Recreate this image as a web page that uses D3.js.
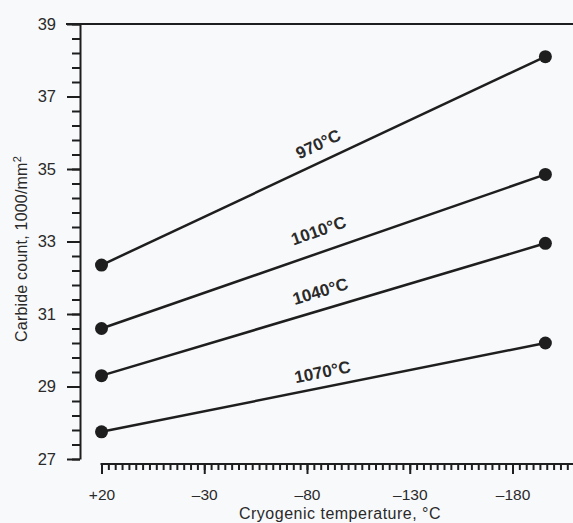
<!DOCTYPE html>
<html><head><meta charset="utf-8">
<script src="https://cdn.jsdelivr.net/npm/d3@7"></script>
<style>
body{margin:0;background:#f8f9fb;}
svg{display:block;}
text{font-family:"Liberation Sans",Arial,Helvetica,sans-serif;fill:#2a2a2a;}
</style>
</head><body>
<svg id="c" width="573" height="523"></svg>
<script>
// ---- data ----
const temps = [20, -196];
const seriesNames = ["970°C", "1010°C", "1040°C", "1070°C"];
const v970  = [32.35, 38.10];
const v1010 = [30.60, 34.85];
const v1040 = [29.30, 32.95];
const v1070 = [27.75, 30.20];
const xTicks = [20, -30, -80, -130, -180];
const xTickLabels = ["+20", "–30", "–80", "–130", "–180"];
const yTicks = [27, 29, 31, 33, 35, 37, 39];
const labelTemp = -89;

// ---- layout ----
const svg = d3.select("#c");
const ink = "#1e1e1e";
const x = d3.scaleLinear().domain([20, -180]).range([101.5, 512.5]);
const y = d3.scaleLinear().domain([27, 39]).range([459, 24]);
const labelOffsets = [17, 21, 18, 15];
const series = [v970, v1010, v1040, v1070];

// top frame line
svg.append("line").attr("x1", 66).attr("x2", 573).attr("y1", y(39)).attr("y2", y(39))
  .attr("stroke", ink).attr("stroke-width", 2);

// Y axis
const yMinor = d3.range(27, 39.001, 0.4).map(d => +d.toFixed(1));
const gyMinor = svg.append("g").attr("transform", "translate(80,0)")
  .call(d3.axisLeft(y).tickValues(yMinor).tickSize(8).tickFormat(""));
gyMinor.select(".domain").remove();
const gy = svg.append("g").attr("transform", "translate(80,0)")
  .call(d3.axisLeft(y).tickValues(yTicks).tickSize(13).tickSizeOuter(0).tickPadding(11));
svg.selectAll("g .tick line, g .domain").attr("stroke", ink).attr("stroke-width", 2);
gy.selectAll("text").attr("font-size", 16.5).attr("fill", "#333");

// X axis
const axisY = 464;
const xMinor = d3.range(0, 70).map(i => 20 - i * 10 / 3);
const gxMinor = svg.append("g").attr("transform", `translate(0,${axisY})`)
  .call(d3.axisBottom(x).tickValues(xMinor).tickSize(6).tickFormat(""));
gxMinor.select(".domain").remove();
const gx = svg.append("g").attr("transform", `translate(0,${axisY})`)
  .call(d3.axisBottom(x).tickValues(xTicks).tickSize(10).tickFormat((d, i) => xTickLabels[i]));
gx.select(".domain").remove();
gx.selectAll("text").attr("y", 36).attr("dy", 0).attr("font-size", 15.5).attr("fill", "#333");
svg.selectAll("g .tick line").attr("stroke", ink).attr("stroke-width", 2);
svg.append("line").attr("x1", x(20) - 1).attr("x2", 573).attr("y1", axisY).attr("y2", axisY)
  .attr("stroke", ink).attr("stroke-width", 2);

// axis titles
svg.append("text").attr("x", 340).attr("y", 519).attr("text-anchor", "middle")
  .attr("font-size", 16).attr("letter-spacing", 0.5).text("Cryogenic temperature, °C");
const yt = svg.append("text").attr("transform", "translate(27,249) rotate(-90)")
  .attr("text-anchor", "middle").attr("font-size", 16).attr("letter-spacing", 0.2);
yt.append("tspan").text("Carbide count, 1000/mm");
yt.append("tspan").attr("dy", -6).attr("font-size", 11).text("2");

// lines, dots, labels
const line = d3.line().x((d, i) => x(temps[i])).y(d => y(d));
series.forEach((vals, k) => {
  svg.append("path").attr("d", line(vals)).attr("fill", "none")
    .attr("stroke", ink).attr("stroke-width", 2.5);
  svg.selectAll(null).data(vals).enter().append("circle")
    .attr("cx", (d, i) => x(temps[i])).attr("cy", d => y(d)).attr("r", 6.5).attr("fill", ink);
  const x0 = x(temps[0]), y0 = y(vals[0]), x1 = x(temps[1]), y1 = y(vals[1]);
  const a = Math.atan2(y1 - y0, x1 - x0);
  const t = (labelTemp - temps[0]) / (temps[1] - temps[0]);
  const lv = vals[0] + (vals[1] - vals[0]) * t;
  const px = x(labelTemp) + Math.sin(a) * labelOffsets[k];
  const py = y(lv) - Math.cos(a) * labelOffsets[k];
  svg.append("text").attr("transform", `translate(${px},${py}) rotate(${a * 180 / Math.PI})`)
    .attr("text-anchor", "middle").attr("dominant-baseline", "central")
    .attr("font-size", 17).attr("font-weight", "bold").attr("fill", "#1a1a1a")
    .text(seriesNames[k]);
});
</script>
</body></html>
